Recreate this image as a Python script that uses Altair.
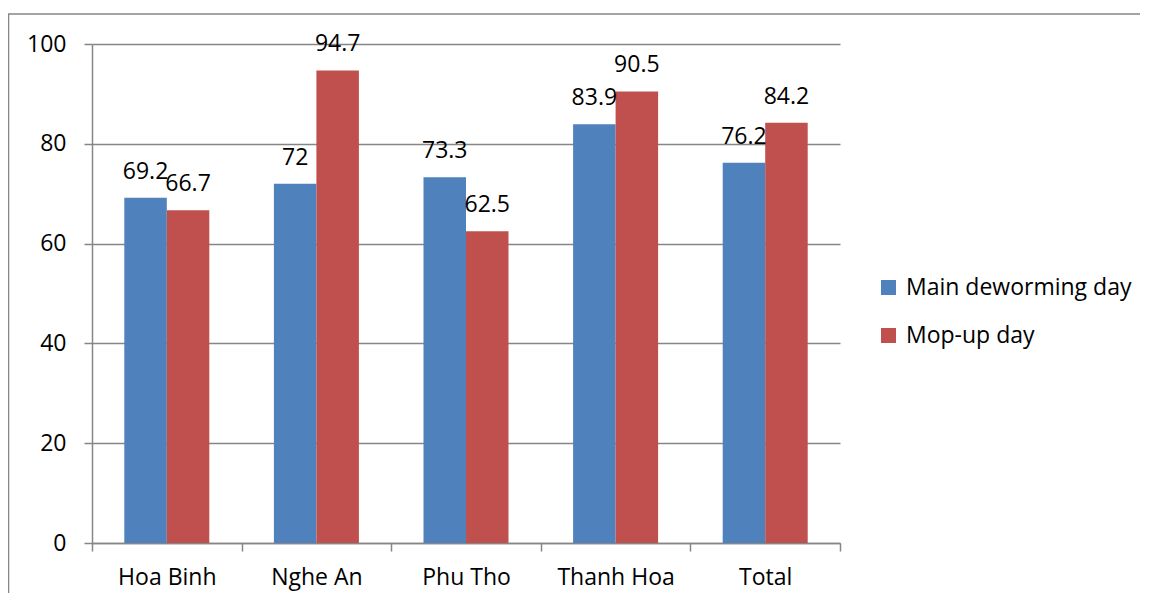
import altair as alt
import pandas as pd

regions = ["Hoa Binh", "Nghe An", "Phu Tho", "Thanh Hoa", "Total"]
series = ["Main deworming day", "Mop-up day"]
main_vals = [69.2, 72, 73.3, 83.9, 76.2]
mop_vals = [66.7, 94.7, 62.5, 90.5, 84.2]
colors = ["#4F81BD", "#C0504D"]
y_ticks = [0, 20, 40, 60, 80, 100]

rows = []
for r, a, b in zip(regions, main_vals, mop_vals):
    rows.append({"region": r, "series": series[0], "value": a, "label": f"{a:g}"})
    rows.append({"region": r, "series": series[1], "value": b, "label": f"{b:g}"})
df = pd.DataFrame(rows)

GRAY = "#868686"
FS = 23

x = alt.X(
    "region:N", sort=regions, title=None,
    scale=alt.Scale(paddingInner=0, paddingOuter=0),
    axis=alt.Axis(labelAngle=0, tickBand="extent", tickSize=8, labelPadding=15,
                  labelFontSize=FS, labelColor="#000000", domainColor=GRAY,
                  tickColor=GRAY, domainWidth=1.5, tickWidth=1.5, grid=False),
)
xo = alt.XOffset("series:N", sort=series,
                 scale=alt.Scale(paddingInner=0, paddingOuter=0.76))
y = alt.Y(
    "value:Q", title=None,
    scale=alt.Scale(domain=[0, 100], nice=False),
    axis=alt.Axis(values=y_ticks, tickSize=8, labelPadding=18, labelFontSize=FS,
                  labelColor="#000000", domainColor=GRAY, tickColor=GRAY,
                  domainWidth=1.5, tickWidth=1.5, grid=True, gridColor=GRAY,
                  gridWidth=1.5),
)

bars = alt.Chart(df).mark_bar().encode(
    x=x, xOffset=xo, y=y,
    color=alt.Color(
        "series:N",
        scale=alt.Scale(domain=series, range=colors),
        legend=alt.Legend(title=None, orient="none", legendX=785, legendY=232,
                          symbolType="square", symbolSize=225, labelFontSize=FS,
                          labelColor="#000000", labelOffset=6, rowPadding=24,
                          padding=0, symbolStrokeWidth=0, labelLimit=0),
    ),
)

labels = alt.Chart(df).mark_text(dy=-19, baseline="alphabetic", fontSize=FS,
                                 color="#000000").encode(
    x=x, xOffset=xo, y=y, text="label:N"
)

border = alt.Chart(alt.Data(values=[{"a": 1}])).mark_rect(
    fillOpacity=0, stroke=GRAY, strokeWidth=1.5
).encode(
    x=alt.value(-83.5), x2=alt.value(1300), y=alt.value(-30), y2=alt.value(800)
)

chart = alt.layer(bars, labels, border).properties(
    width=748, height=499,
    autosize="none",
    padding={"left": 84, "top": 36, "right": 300, "bottom": 50},
).configure(font="Open Sans").configure_view(stroke=None)

chart.save("out.html", embed_options={"renderer": "svg", "actions": False})
